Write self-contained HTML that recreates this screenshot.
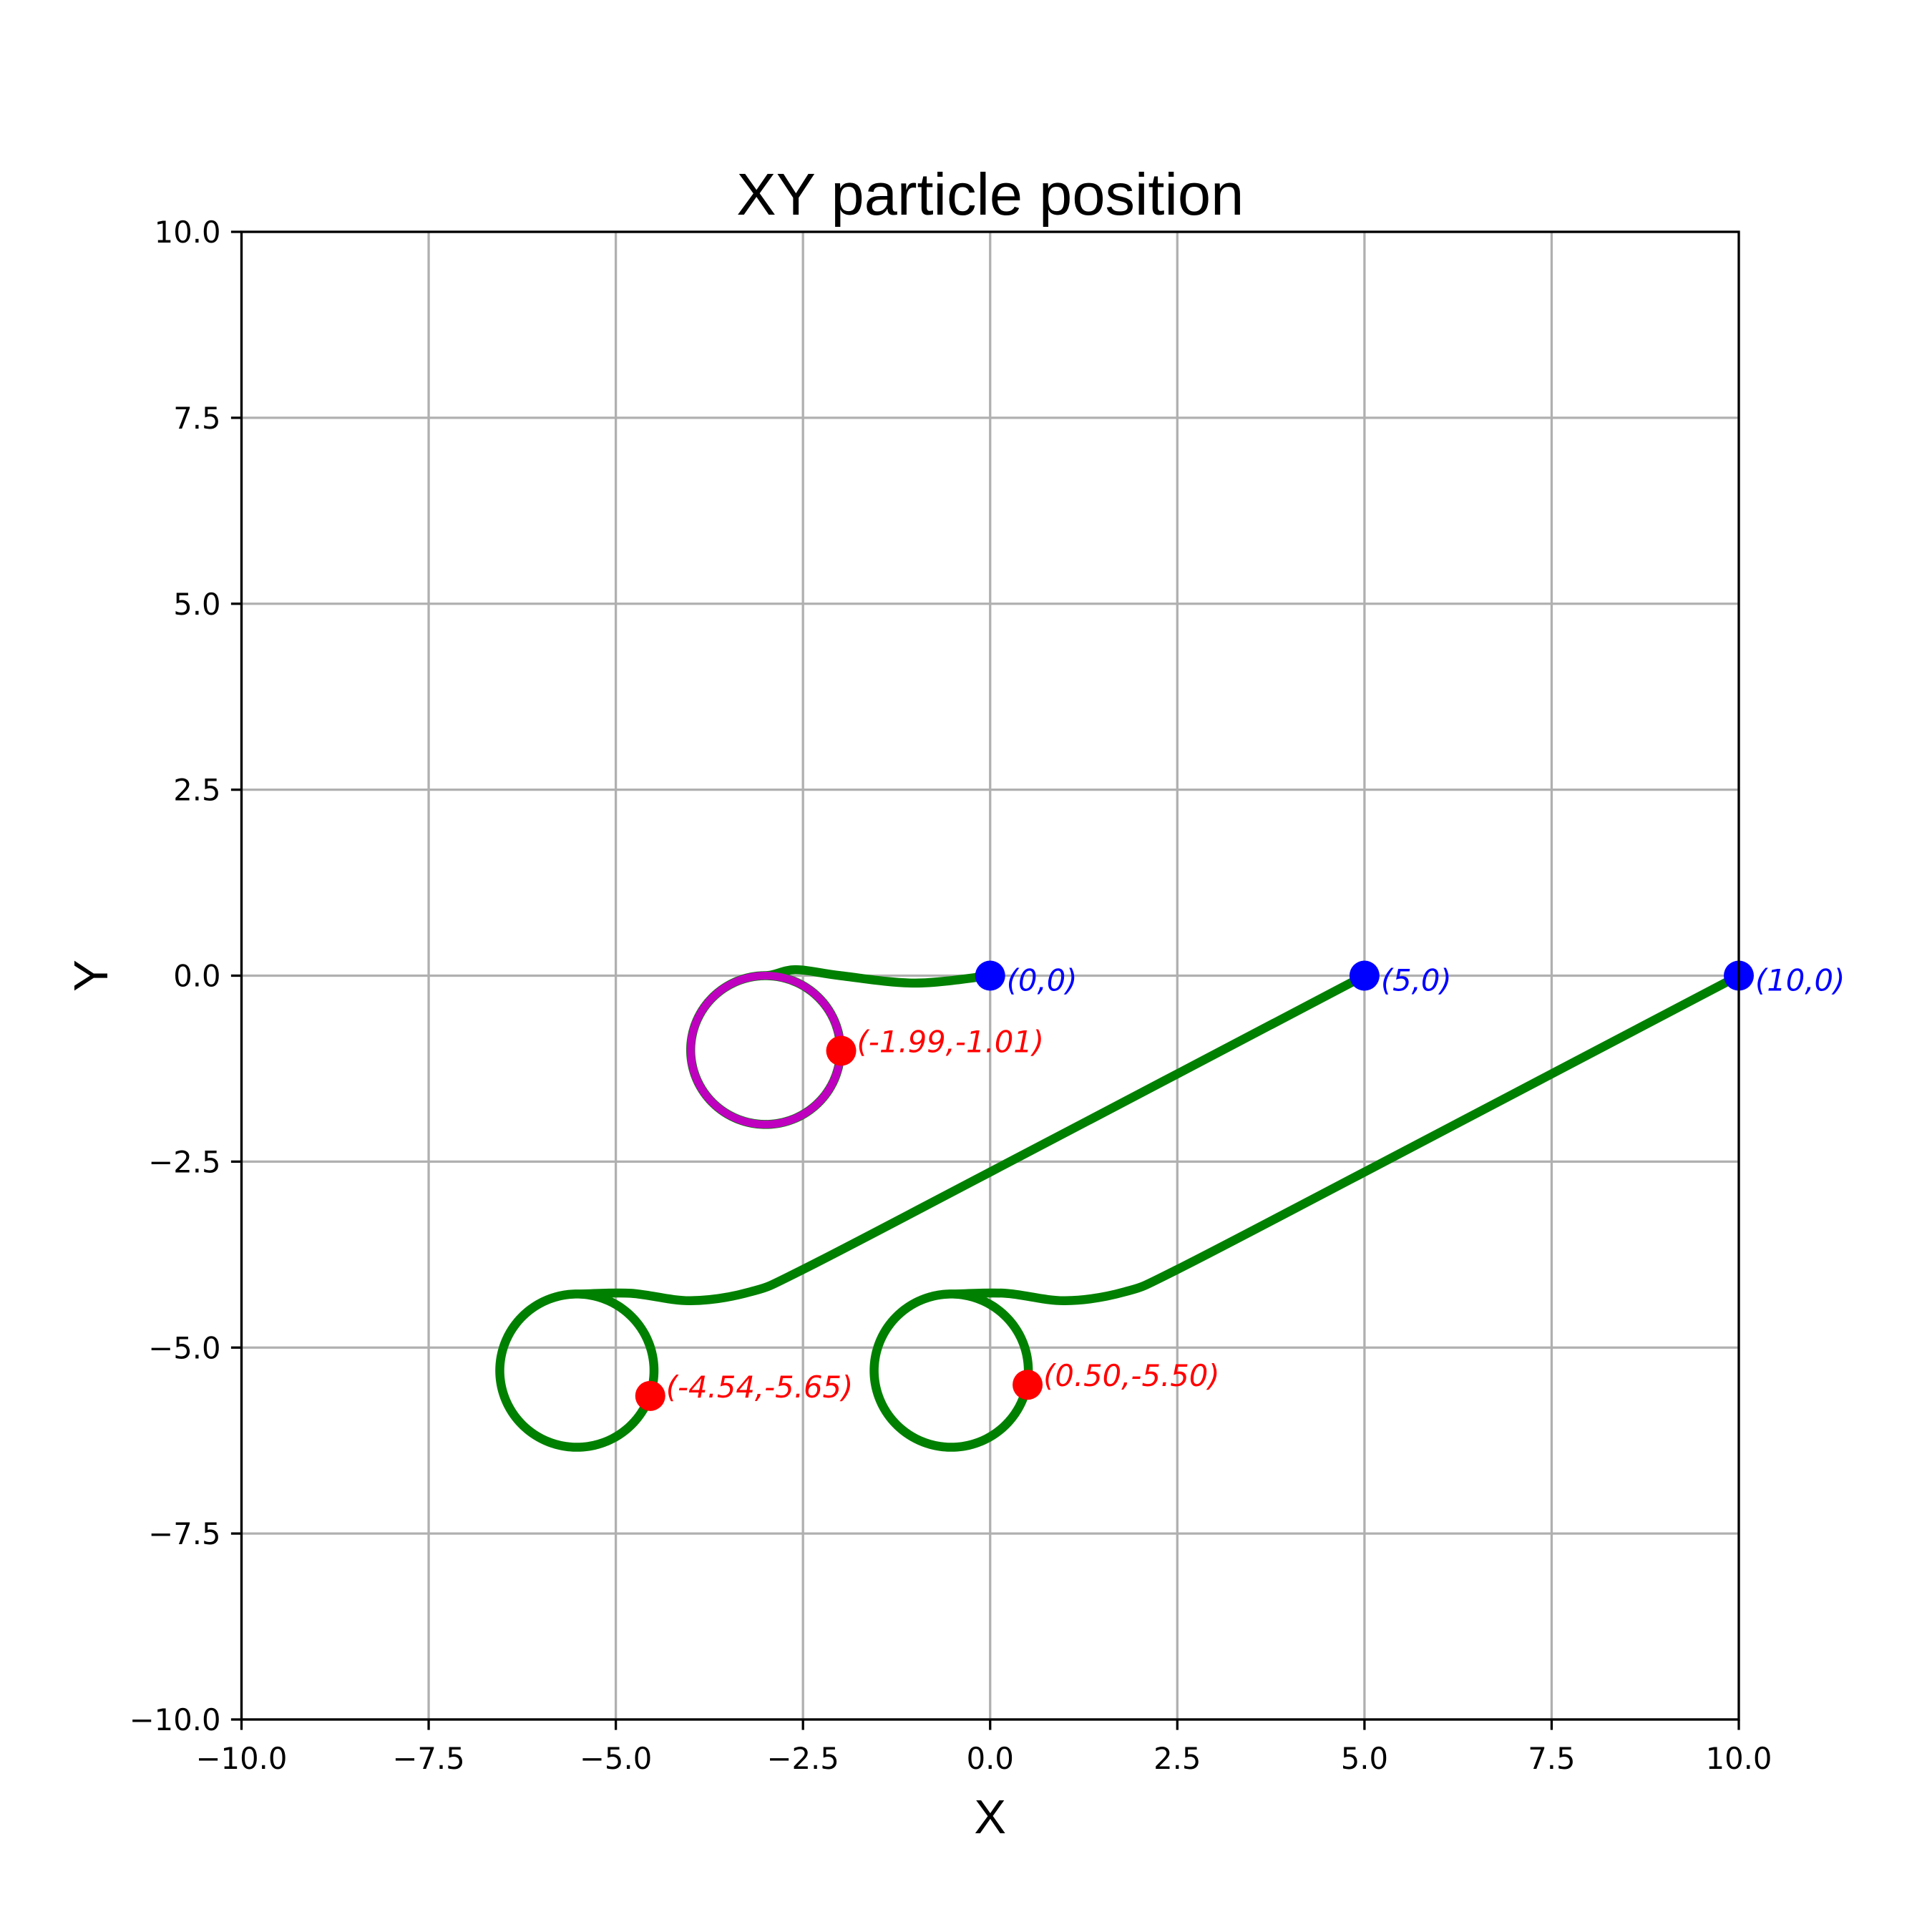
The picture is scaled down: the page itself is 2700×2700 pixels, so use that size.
<!DOCTYPE html>
<html><head><meta charset="utf-8"><style>
html,body{margin:0;padding:0;background:#fff;}
svg{display:block;}
text{font-family:"DejaVu Sans","Liberation Sans",sans-serif;}
</style></head><body>
<svg id="chart" width="2700" height="2700" viewBox="0 0 2700 2700" xmlns="http://www.w3.org/2000/svg">
<rect width="2700" height="2700" fill="#fff"/>
<g id="grid"></g>
<g id="series"></g>
<rect x="337.5" y="324" width="2092.5" height="2079" fill="none" stroke="#000" stroke-width="3.3"/>
<g id="ticks"></g>
<text x="1383.75" y="300" text-anchor="middle" font-size="83" style="font-family:'Liberation Sans',sans-serif">XY particle position</text>
<text x="1383.75" y="2562" text-anchor="middle" font-size="67" style="font-family:'Liberation Sans',sans-serif">X</text>
<text x="0" y="0" transform="translate(150,1363.5) rotate(-90)" text-anchor="middle" font-size="67" style="font-family:'Liberation Sans',sans-serif">Y</text>
</svg>
<script>
const xTicks=[-10,-7.5,-5,-2.5,0,2.5,5,7.5,10];
const yTicks=[-10,-7.5,-5,-2.5,0,2.5,5,7.5,10];
const tickLabels=["−10.0","−7.5","−5.0","−2.5","0.0","2.5","5.0","7.5","10.0"];
// trajectory lead-in points (data units)
const path1X=[0,-1,-2,-2.6,-3];
const path1Y=[0,-0.1,0.0,0.08,0];
const path2X=[5,0,-2.5,-3.2,-4,-4.8,-5.52];
const path2Y=[0,-2.64,-3.95,-4.25,-4.37,-4.27,-4.28];
const path3X=[10,5,2.5,1.8,1,0.2,-0.52];
const path3Y=[0,-2.64,-3.95,-4.25,-4.37,-4.27,-4.28];
const loopCX=[-3,-5.52,-0.52];
const loopCY=[-1,-5.31,-5.31];
const loopR=[1,1.03,1.03];
const startX=[0,5,10];
const startY=[0,0,0];
const startLabels=["(0,0)","(5,0)","(10,0)"];
const endX=[-1.99,-4.54,0.5];
const endY=[-1.01,-5.65,-5.5];
const endLabels=["(-1.99,-1.01)","(-4.54,-5.65)","(0.50,-5.50)"];

const NS="http://www.w3.org/2000/svg";
const X0=337.5,X1=2430,Y0=2403,Y1=324;
const sx=v=>X0+(v+10)/20*(X1-X0);
const sy=v=>Y0-(v+10)/20*(Y0-Y1);
function mk(tag,attrs,parent){const e=document.createElementNS(NS,tag);for(const k in attrs)e.setAttribute(k,attrs[k]);parent.appendChild(e);return e;}
const grid=document.getElementById('grid'),ticks=document.getElementById('ticks'),series=document.getElementById('series');
xTicks.forEach((t,i)=>{
  const g=mk('line',{x1:sx(t),x2:sx(t),y1:Y1,y2:Y0,stroke:'#b0b0b0','stroke-width':3.3},grid);
  
  
  const tk=mk('line',{x1:sx(t),x2:sx(t),y1:Y0,y2:Y0+14.6,stroke:'#000','stroke-width':3.3},ticks);
  
  
  const lb=mk('text',{x:sx(t),y:Y0+29+40,'text-anchor':'middle','font-size':41.7},ticks);
  lb.textContent=tickLabels[i];
  
  
});
yTicks.forEach((t,i)=>{
  const g=mk('line',{x1:X0,x2:X1,y1:sy(t),y2:sy(t),stroke:'#b0b0b0','stroke-width':3.3},grid);
  
  
  const tk=mk('line',{x1:X0-14.6,x2:X0,y1:sy(t),y2:sy(t),stroke:'#000','stroke-width':3.3},ticks);
  
  
  const lb=mk('text',{x:X0-29,y:sy(t)+15,'text-anchor':'end','font-size':41.7},ticks);
  lb.textContent=tickLabels[i];
  
  
});
function smooth(px,py){
  let d='M'+px[0]+','+py[0];
  for(let i=0;i<px.length-1;i++){
    const p0=i>0?i-1:i;
    const c1x=px[i]+(px[i+1]-px[p0])/6,c1y=py[i]+(py[i+1]-py[p0])/6;
    let c2x,c2y;
    if(i+2<px.length){c2x=px[i+1]-(px[i+2]-px[i])/6;c2y=py[i+1]-(py[i+2]-py[i])/6;}
    else{c2x=px[i+1]+(px[i]-px[i+1])/3;c2y=py[i+1];}
    d+=' C'+c1x+','+c1y+' '+c2x+','+c2y+' '+px[i+1]+','+py[i+1];
  }
  return d;
}
const paths=[[path1X,path1Y],[path2X,path2Y],[path3X,path3Y]];
paths.forEach((p,k)=>{
  const px=p[0].map(sx),py=p[1].map(sy);
  let d=smooth(px,py);
  const cx=loopCX[k],cy=loopCY[k],r=loopR[k];
  const endA=Math.atan2(endY[k]-cy,endX[k]-cx);
  let a1=(endA<Math.PI/2?endA+2*Math.PI:endA)+2*Math.PI;
  for(let a=Math.PI/2;a<=a1;a+=0.02){d+=' L'+sx(cx+r*Math.cos(a))+','+sy(cy+r*Math.sin(a));}
  d+=' L'+sx(endX[k])+','+sy(endY[k]);
  const e=mk('path',{d:d,fill:'none',stroke:'#008000','stroke-width':12.5,'stroke-linejoin':'round','stroke-linecap':'square'},series);
  
  
});
const mc=mk('ellipse',{cx:sx(loopCX[0]),cy:sy(loopCY[0]),rx:sx(loopCX[0]+loopR[0])-sx(loopCX[0]),ry:sy(loopCY[0])-sy(loopCY[0]+loopR[0]),fill:'none',stroke:'#bf00bf','stroke-width':11},series);


startX.forEach((v,k)=>{
  const c=mk('circle',{cx:sx(v),cy:sy(startY[k]),r:21,fill:'#0000ff'},series);
  
  
  const t=mk('text',{x:sx(v)+23,y:sy(startY[k])+21,'font-size':41.7,'font-style':'italic',fill:'#0000ff'},series);
  t.textContent=startLabels[k];
  
  
});
endX.forEach((v,k)=>{
  const c=mk('circle',{cx:sx(v),cy:sy(endY[k]),r:21,fill:'#ff0000'},series);
  
  
  const t=mk('text',{x:sx(v)+22,y:sy(endY[k])+2,'font-size':41.7,'font-style':'italic',fill:'#ff0000'},series);
  t.textContent=endLabels[k];
  
  
});
</script>
</body></html>
